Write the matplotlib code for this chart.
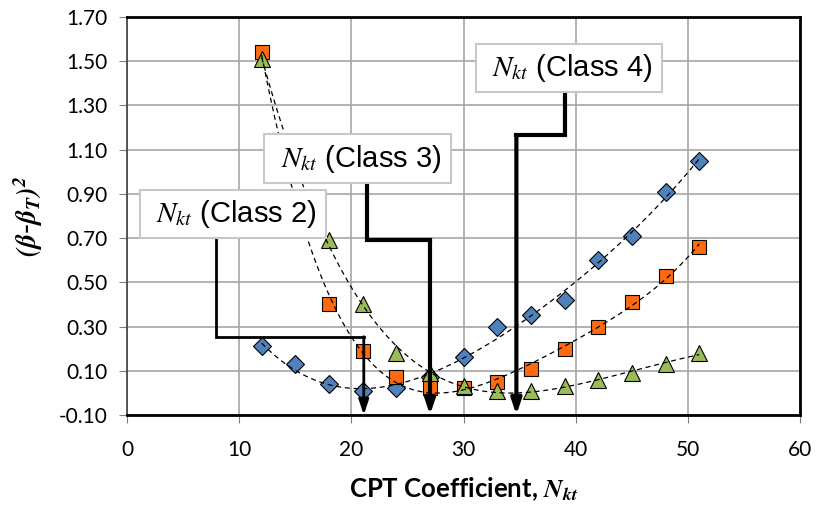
import numpy as np
import matplotlib
matplotlib.use("Agg")
import matplotlib.pyplot as plt

plt.rcParams["mathtext.fontset"] = "stix"

# data
nkt_blue = [12, 15, 18, 21, 24, 27, 30, 33, 36, 39, 42, 45, 48, 51]
err_blue = [0.21, 0.13, 0.04, 0.01, 0.02, 0.07, 0.16, 0.30, 0.35, 0.42, 0.60, 0.71, 0.91, 1.05]

nkt_orange = [12, 18, 21, 24, 27, 30, 33, 36, 39, 42, 45, 48, 51]
err_orange = [1.54, 0.40, 0.19, 0.07, 0.02, 0.02, 0.05, 0.11, 0.20, 0.30, 0.41, 0.53, 0.66]

nkt_green = [12, 18, 21, 24, 27, 30, 33, 36, 39, 42, 45, 48, 51]
err_green = [1.51, 0.69, 0.40, 0.18, 0.09, 0.03, 0.01, 0.01, 0.03, 0.06, 0.09, 0.13, 0.18]

# optimum Nkt per class (arrow targets)
class_labels = ["Class 2", "Class 3", "Class 4"]
class_nkt = [21.1, 27.0, 34.7]

x_ticks = [0, 10, 20, 30, 40, 50, 60]
y_ticks = [-0.10, 0.10, 0.30, 0.50, 0.70, 0.90, 1.10, 1.30, 1.50, 1.70]

fig = plt.figure(figsize=(8.17, 5.18), dpi=100)
ax = fig.add_axes([0.1555, 0.199, 0.824, 0.768])

series = [
    (nkt_blue, err_blue, "D", "#4f81bd", 9.5, 4),
    (nkt_orange, err_orange, "s", "#ff6a10", 10, 4),
    (nkt_green, err_green, "^", "#9bbb59", 11, 4),
]
for xs, ys, mk, col, ms, deg in series:
    ax.plot(xs, ys, linestyle="none", marker=mk, markersize=ms,
            markerfacecolor=col, markeredgecolor="black", markeredgewidth=0.8,
            zorder=3)
    # Excel-style polynomial trendline
    coef = np.polyfit(xs, ys, deg)
    xf = np.linspace(min(xs), max(xs), 200)
    ax.plot(xf, np.polyval(coef, xf), color="black", lw=0.9,
            linestyle=(0, (4, 3)), zorder=4)

# leader lines with arrows
leaders = [
    ([7.9, 7.9, class_nkt[0]], [0.81, 0.254, 0.254], 2.0),
    ([21.4, 21.4, class_nkt[1]], [1.06, 0.69, 0.69], 3.0),
    ([39.0, 39.0, class_nkt[2]], [1.47, 1.166, 1.166], 3.0),
]
for xs, ys, lw in leaders:
    ax.plot(xs, ys, color="black", lw=lw, zorder=5, solid_joinstyle="miter")
    ax.annotate("", xy=(xs[-1], -0.10), xytext=(xs[-1], ys[-1]),
                arrowprops=dict(arrowstyle="-|>,head_length=0.9,head_width=0.3",
                                color="black", lw=lw, shrinkA=0, shrinkB=0),
                zorder=5)

box_pos = [(9.45, 0.81), (20.55, 1.06), (39.4, 1.47)]
for (bx, by), lab in zip(box_pos, class_labels):
    ax.text(bx, by, r" $\mathit{N_{kt}}$ (" + lab + ") ", fontsize=21,
            family="Liberation Sans", ha="center", va="center", zorder=6,
            bbox=dict(boxstyle="square,pad=0.28", facecolor="white",
                      edgecolor="#c8c8c8", lw=1.5))

ax.set_xlim(0, 60)
ax.set_ylim(-0.10, 1.70)
ax.set_xticks(x_ticks)
ax.set_yticks(y_ticks)
ax.set_xticklabels([str(v) for v in x_ticks], family="Lato", fontsize=15)
ax.set_yticklabels([f"{v:.2f}" for v in y_ticks], family="Lato", fontsize=15)
ax.tick_params(axis="both", direction="out", length=6, color="#808080")
ax.tick_params(axis="x", pad=12)
ax.tick_params(axis="y", pad=8)
ax.grid(True, color="#a6a6a6", lw=1.2)
ax.set_axisbelow(True)
for side in ["top", "right", "bottom"]:
    ax.spines[side].set_color("black")
    ax.spines[side].set_linewidth(2)
ax.spines["left"].set_color("#404040")
ax.spines["left"].set_linewidth(1.2)

ax.set_xlabel(r"CPT Coefficient, $\mathbfit{N_{kt}}$", family="Lato",
              fontweight="bold", fontsize=18.5, labelpad=11)
ax.set_ylabel(r"$\mathbfit{(\beta}$-$\mathbfit{\beta_T)^2}$", fontsize=20,
              labelpad=10)

fig.savefig("out.png", dpi=100)
plt.close(fig)
